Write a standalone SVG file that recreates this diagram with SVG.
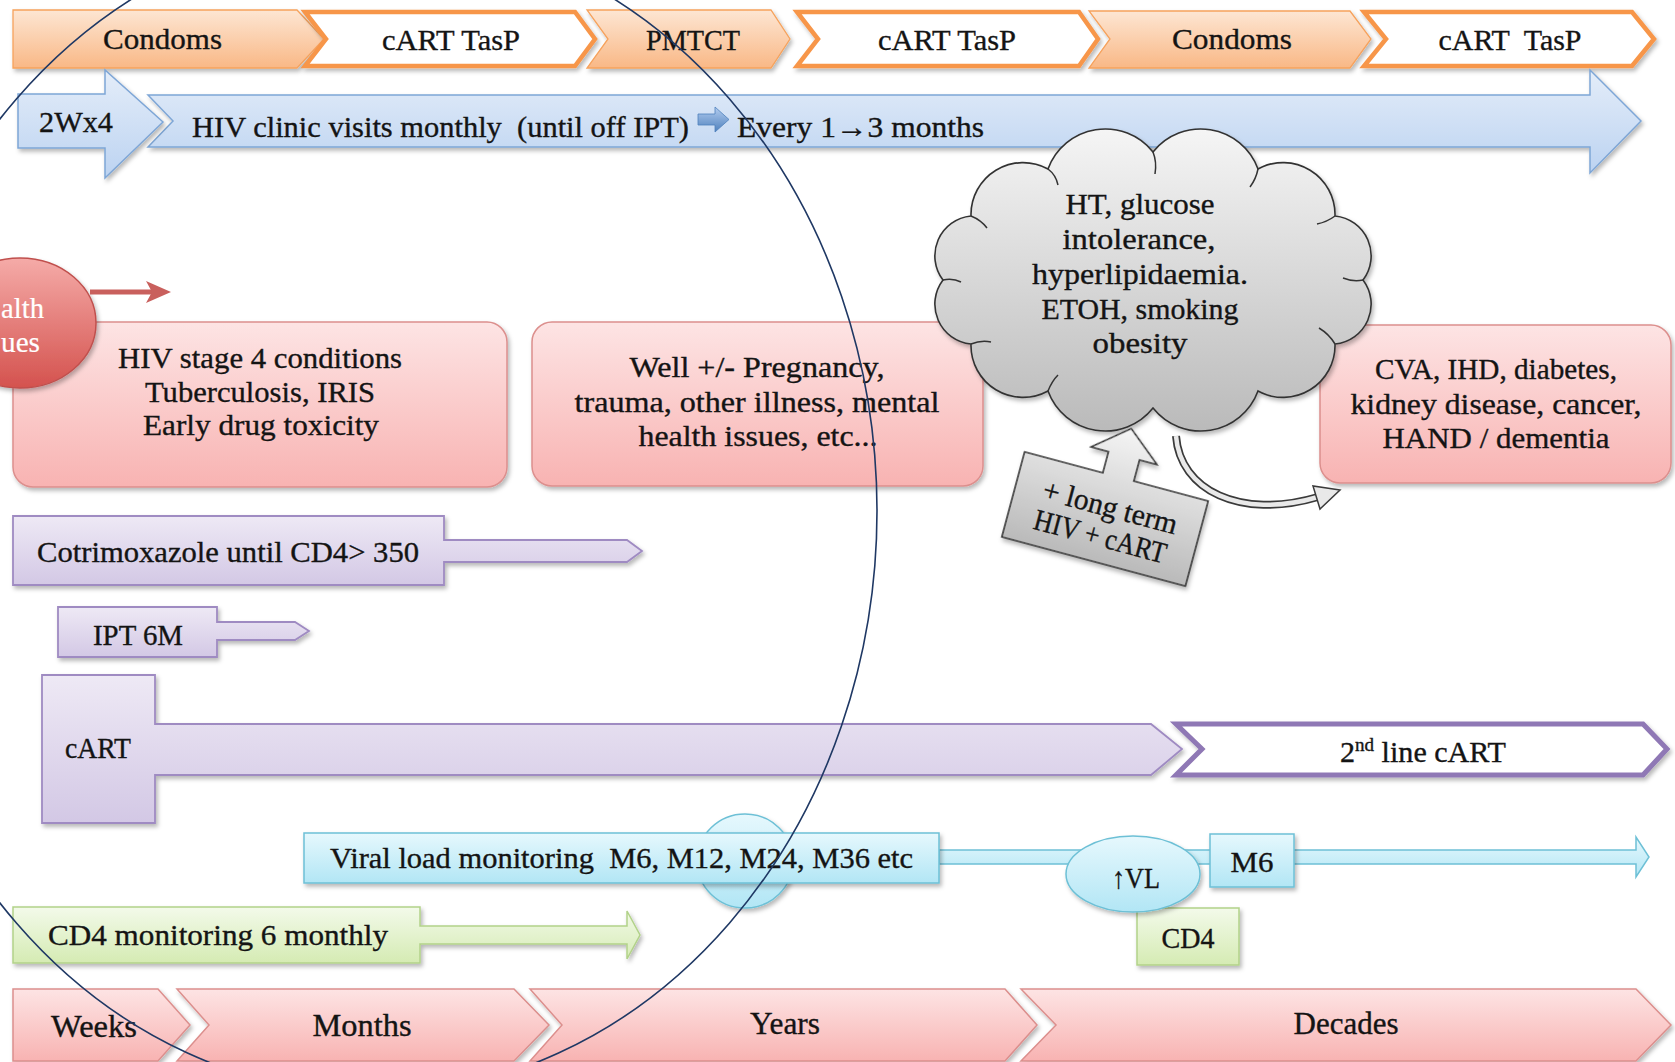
<svg xmlns="http://www.w3.org/2000/svg" width="1675" height="1062" viewBox="0 0 1675 1062">
<defs>
<linearGradient id="gOr" x1="0" y1="0" x2="0" y2="1"><stop offset="0" stop-color="#fde6d3"/><stop offset="1" stop-color="#f9b886"/></linearGradient>
<linearGradient id="gBl" x1="0" y1="0" x2="0" y2="1"><stop offset="0" stop-color="#e4edf9"/><stop offset="1" stop-color="#bcd3f1"/></linearGradient>
<linearGradient id="gIc" x1="0" y1="0" x2="0" y2="1"><stop offset="0" stop-color="#b3cdf0"/><stop offset="1" stop-color="#4f81bd"/></linearGradient>
<linearGradient id="gPk" x1="0" y1="0" x2="0" y2="1"><stop offset="0" stop-color="#fde4e4"/><stop offset="1" stop-color="#f8b3b2"/></linearGradient>
<linearGradient id="gRd" x1="0" y1="0" x2="0" y2="1"><stop offset="0" stop-color="#f5aba8"/><stop offset="1" stop-color="#d4524e"/></linearGradient>
<linearGradient id="gPu" x1="0" y1="0" x2="0" y2="1"><stop offset="0" stop-color="#eee9f5"/><stop offset="1" stop-color="#d3c8e5"/></linearGradient>
<linearGradient id="gCy" x1="0" y1="0" x2="0" y2="1"><stop offset="0" stop-color="#e6f8fd"/><stop offset="1" stop-color="#b2e6f5"/></linearGradient>
<linearGradient id="gGr" x1="0" y1="0" x2="0" y2="1"><stop offset="0" stop-color="#f3faea"/><stop offset="1" stop-color="#d5ebb3"/></linearGradient>
<linearGradient id="gGy" x1="0" y1="0" x2="0" y2="1"><stop offset="0" stop-color="#f5f5f5"/><stop offset="1" stop-color="#bababa"/></linearGradient>
<filter id="sh" x="-5%" y="-10%" width="115%" height="130%"><feDropShadow dx="2" dy="3" stdDeviation="2" flood-color="#000" flood-opacity="0.28"/></filter>
<style>
text{font-family:"Liberation Serif","DejaVu Serif",serif;font-size:30px;fill:#141414;stroke:#141414;stroke-width:0.35}
.c{text-anchor:middle}
.w{fill:#fff;stroke:#fff;stroke-width:0.2}
.or{fill:url(#gOr);stroke:#f6a25c;stroke-width:1.3}
.ow{fill:#fff;stroke:#f7964a;stroke-width:4.5}
.bl{fill:url(#gBl);stroke:#7ea6d6;stroke-width:1.5}
.pk{fill:url(#gPk);stroke:#dc8f8d;stroke-width:1.5}
.pu{fill:url(#gPu);stroke:#9f8bc2;stroke-width:1.8}
.pw{fill:#fff;stroke:#8f78b5;stroke-width:5}
.cy{fill:url(#gCy);stroke:#6dc0d6;stroke-width:1.5}
.gr{fill:url(#gGr);stroke:#b2d289;stroke-width:1.5}
.gy{fill:url(#gGy);stroke:#333;stroke-width:1.6}
.bt{font-size:32px}
</style>
</defs>
<rect width="1675" height="1062" fill="#fff"/>

<g id="top-row">
<g id="condoms1"><polygon class="or" filter="url(#sh)" points="13,10 297,10 324,39 297,68 13,68"/><text class="c" x="162.5" y="49" textLength="119" lengthAdjust="spacingAndGlyphs">Condoms</text></g>
<g id="tasp1"><polygon class="ow" filter="url(#sh)" points="305,12 575,12 595,39 575,66 305,66 326,39"/><text class="c" x="451" y="50" textLength="138" lengthAdjust="spacingAndGlyphs">cART TasP</text></g>
<g id="pmtct"><polygon class="or" filter="url(#sh)" points="587,10 771,10 790,39 771,68 587,68 608,39"/><text class="c" x="693" y="50" textLength="94" lengthAdjust="spacingAndGlyphs">PMTCT</text></g>
<g id="tasp2"><polygon class="ow" filter="url(#sh)" points="797,12 1079,12 1098,39 1079,66 797,66 818,39"/><text class="c" x="947" y="50" textLength="138" lengthAdjust="spacingAndGlyphs">cART TasP</text></g>
<g id="condoms2"><polygon class="or" filter="url(#sh)" points="1089,11 1350,11 1371,39 1350,68 1089,68 1110,39"/><text class="c" x="1232" y="49" textLength="120" lengthAdjust="spacingAndGlyphs">Condoms</text></g>
<g id="tasp3"><polygon class="ow" filter="url(#sh)" points="1364,12 1632,12 1654,39 1632,66 1364,66 1386,39"/><text class="c" x="1510" y="50" textLength="143" lengthAdjust="spacingAndGlyphs" xml:space="preserve">cART  TasP</text></g>
</g>

<g id="clinic-visits">
<polygon class="bl" filter="url(#sh)" points="148,95 1590,95 1590,70 1641,121 1590,173 1590,147 148,147 173,121"/>
<polygon fill="url(#gIc)" stroke="#4f81bd" stroke-width="0.8" points="698,114 715,114 715,107 729,119.5 715,132 715,125 698,125"/>
<text x="192" y="137" textLength="497" lengthAdjust="spacingAndGlyphs" xml:space="preserve">HIV clinic visits monthly  (until off IPT)</text>
<text x="737" y="137" textLength="247" lengthAdjust="spacingAndGlyphs">Every 1→3 months</text>
</g>
<g id="w2x4"><polygon class="bl" filter="url(#sh)" points="18,94 105,94 105,70 163,122 105,178 105,148 18,148"/><text class="c" x="76" y="132" textLength="74" lengthAdjust="spacingAndGlyphs">2Wx4</text></g>

<g id="stage4"><rect class="pk" filter="url(#sh)" x="13" y="322" width="494" height="165" rx="20"/>
<text class="c" x="260" y="368" textLength="284" lengthAdjust="spacingAndGlyphs">HIV stage 4 conditions</text>
<text class="c" x="260" y="402" textLength="230" lengthAdjust="spacingAndGlyphs">Tuberculosis, IRIS</text>
<text class="c" x="261" y="435" textLength="236" lengthAdjust="spacingAndGlyphs">Early drug toxicity</text></g>

<g id="health-issues"><ellipse cx="20" cy="323" rx="76" ry="65" fill="url(#gRd)" stroke="#c0504d" stroke-width="1.5" filter="url(#sh)"/>
<text class="w" x="44" y="318" text-anchor="end" textLength="43" lengthAdjust="spacingAndGlyphs">alth</text>
<text class="w" x="40" y="352" text-anchor="end" textLength="39" lengthAdjust="spacingAndGlyphs">ues</text></g>

<g id="well"><rect class="pk" filter="url(#sh)" x="532" y="322" width="451" height="164" rx="20"/>
<text class="c" x="757" y="377" textLength="255" lengthAdjust="spacingAndGlyphs">Well +/- Pregnancy,</text>
<text class="c" x="757" y="412" textLength="365" lengthAdjust="spacingAndGlyphs">trauma, other illness, mental</text>
<text class="c" x="758" y="446" textLength="239" lengthAdjust="spacingAndGlyphs">health issues, etc...</text></g>

<g id="cva"><rect class="pk" filter="url(#sh)" x="1320" y="325" width="351" height="158" rx="20"/>
<text class="c" x="1496" y="379" textLength="242" lengthAdjust="spacingAndGlyphs">CVA, IHD, diabetes,</text>
<text class="c" x="1496" y="414" textLength="291" lengthAdjust="spacingAndGlyphs">kidney disease, cancer,</text>
<text class="c" x="1496" y="448" textLength="227" lengthAdjust="spacingAndGlyphs">HAND / dementia</text></g>

<g id="connectors">
<line x1="90" y1="292" x2="152" y2="292" stroke="#c9605d" stroke-width="5"/>
<polygon fill="#c9605d" points="146,281 171,292 146,303 152,292"/>
<path d="M1176,436 C1180,490 1240,520 1318,497" fill="none" stroke="#3a3a3a" stroke-width="8"/>
<path d="M1176,436 C1180,490 1240,520 1318,497" fill="none" stroke="#e9e9e9" stroke-width="4.5"/>
<polygon fill="#e9e9e9" stroke="#3a3a3a" stroke-width="1.5" points="1340,490 1313,486 1320,509"/>
</g>

<g id="cloud">
<path class="gy" filter="url(#sh)" d="M1153,152 A61,61 0 0 1 1258,169 A52,52 0 0 1 1335,216 A40,40 0 0 1 1363,280 A40,40 0 0 1 1335,344 A52,52 0 0 1 1258,391 A61,61 0 0 1 1153,408 A61,61 0 0 1 1048,391 A52,52 0 0 1 971,344 A40,40 0 0 1 943,280 A40,40 0 0 1 971,216 A52,52 0 0 1 1048,169 A61,61 0 0 1 1153,152 Z"/>
<g fill="none" stroke="#333" stroke-width="1.5">
<path d="M1153,152 q4,10 2,22"/><path d="M1258,169 q-2,10 -8,18"/><path d="M1335,216 q-8,6 -18,8"/><path d="M1363,280 q-10,2 -20,-2"/><path d="M1335,344 q-6,-10 -16,-16"/><path d="M1048,391 q4,-10 10,-16"/><path d="M971,344 q10,-4 20,-2"/><path d="M943,280 q10,-2 18,2"/><path d="M971,216 q10,4 16,12"/><path d="M1048,169 q8,6 10,16"/>
</g>
<text class="c" x="1140" y="214" textLength="149" lengthAdjust="spacingAndGlyphs">HT, glucose</text>
<text class="c" x="1139" y="249" textLength="153" lengthAdjust="spacingAndGlyphs">intolerance,</text>
<text class="c" x="1140" y="284" textLength="216" lengthAdjust="spacingAndGlyphs">hyperlipidaemia.</text>
<text class="c" x="1140" y="319" textLength="197" lengthAdjust="spacingAndGlyphs">ETOH, smoking</text>
<text class="c" x="1140" y="353" textLength="95" lengthAdjust="spacingAndGlyphs">obesity</text>
</g>

<g id="long-term" transform="translate(1105,519) rotate(15)">
<path class="gy" filter="url(#sh)" d="M-95,-44 H-14 V-66 H-32 L2,-94 L36,-66 H18 V-44 H95 V44 H-95 Z"/>
<text class="c" x="2" y="-3" textLength="138" lengthAdjust="spacingAndGlyphs">+ long term</text>
<text class="c" x="0" y="28" textLength="136" lengthAdjust="spacingAndGlyphs">HIV + cART</text>
</g>

<g id="cotrimoxazole"><path class="pu" filter="url(#sh)" d="M13,516 H444 V540 H627 L642,551 L627,562 H444 V585 H13 Z"/><text x="37" y="562" textLength="382" lengthAdjust="spacingAndGlyphs">Cotrimoxazole until CD4&gt; 350</text></g>
<g id="ipt"><path class="pu" filter="url(#sh)" d="M58,607 H217 V622 H295 L309,631 L295,640 H217 V657 H58 Z"/><text x="93" y="645" textLength="90" lengthAdjust="spacingAndGlyphs">IPT 6M</text></g>
<g id="cart"><path class="pu" filter="url(#sh)" d="M42,675 H155 V724 H1151 L1182,749 L1151,775 H155 V823 H42 Z"/><text x="65" y="758" textLength="66" lengthAdjust="spacingAndGlyphs">cART</text></g>
<g id="second-line"><polygon class="pw" filter="url(#sh)" points="1176,724 1643,724 1667,749 1643,775 1176,775 1202,749"/><text class="c" x="1423" y="762" textLength="166" lengthAdjust="spacingAndGlyphs">2<tspan font-size="19" dy="-11">nd</tspan><tspan dy="11"> line cART</tspan></text></g>

<g id="viral-load">
<ellipse class="cy" cx="745" cy="861" rx="48" ry="47" filter="url(#sh)"/>
<path class="cy" d="M939,850 H1636 V837 L1649,857 L1636,877 V864 H939 Z"/>
<rect class="cy" filter="url(#sh)" x="304" y="833" width="635" height="50"/>
<text x="330" y="868" textLength="583" lengthAdjust="spacingAndGlyphs" xml:space="preserve">Viral load monitoring  M6, M12, M24, M36 etc</text>
</g>
<g id="cd4"><rect class="gr" filter="url(#sh)" x="1137" y="908" width="102" height="57"/><text class="c" x="1188" y="948" textLength="53" lengthAdjust="spacingAndGlyphs">CD4</text></g>
<g id="vl-up"><ellipse class="cy" filter="url(#sh)" cx="1133" cy="874" rx="67" ry="38"/><text class="c" x="1136" y="888" textLength="48" lengthAdjust="spacingAndGlyphs">↑VL</text></g>
<g id="m6"><rect class="cy" filter="url(#sh)" x="1210" y="834" width="84" height="53"/><text class="c" x="1252" y="872" textLength="43" lengthAdjust="spacingAndGlyphs">M6</text></g>

<g id="cd4-monitoring"><path class="gr" filter="url(#sh)" d="M13,907 H420 V926 H627 V911 L640,935 L627,959 V944 H420 V963 H13 Z"/><text x="48" y="945" textLength="340" lengthAdjust="spacingAndGlyphs">CD4 monitoring 6 monthly</text></g>

<g id="time-row">
<g id="weeks"><polygon class="pk" filter="url(#sh)" points="13,989 158,989 190,1025 158,1061 13,1061"/><text class="c bt" x="94" y="1037" textLength="86" lengthAdjust="spacingAndGlyphs">Weeks</text></g>
<g id="months"><polygon class="pk" filter="url(#sh)" points="177,989 514,989 549,1025 514,1061 177,1061 209,1025"/><text class="c bt" x="362" y="1036" textLength="99" lengthAdjust="spacingAndGlyphs">Months</text></g>
<g id="years"><polygon class="pk" filter="url(#sh)" points="530,989 1005,989 1037,1025 1005,1061 530,1061 562,1025"/><text class="c bt" x="785" y="1034" textLength="70" lengthAdjust="spacingAndGlyphs">Years</text></g>
<g id="decades"><polygon class="pk" filter="url(#sh)" points="1021,989 1636,989 1671,1025 1636,1061 1021,1061 1056,1025"/><text class="c bt" x="1346" y="1034" textLength="105" lengthAdjust="spacingAndGlyphs">Decades</text></g>
</g>

<ellipse id="focus-circle" cx="373" cy="511" rx="504" ry="583" fill="none" stroke="#1f3864" stroke-width="1.6"/>
</svg>
